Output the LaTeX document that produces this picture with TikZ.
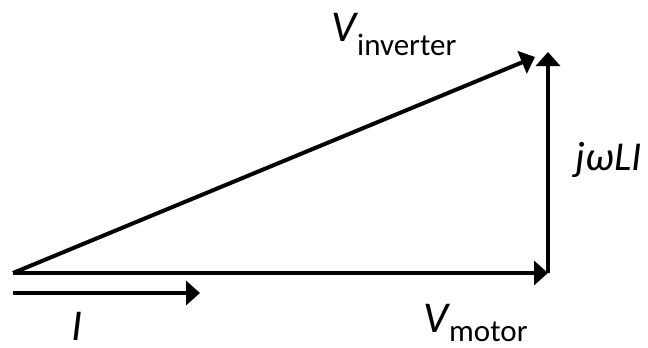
\documentclass[tikz,border=0pt]{standalone}
\usepackage{fontspec}
\setmainfont{Carlito}
\usetikzlibrary{arrows.meta}
\begin{document}
\begin{tikzpicture}[x=1pt,y=-1pt,
  vec/.style={line width=4pt,-{Triangle[length=14pt,width=24pt]}},
  lbl/.style={inner sep=0pt,anchor=base west,font=\fontsize{44}{44}\selectfont\itshape},
  sub/.style={inner sep=0pt,anchor=base west,font=\fontsize{31}{31}\selectfont}]
\useasboundingbox (0,0) rectangle (648,348);
\coordinate (O) at (13,273);
\coordinate (M) at (548,273);
\coordinate (T) at (548,52);
\coordinate (Ttip) at (535,57);
\coordinate (Iend) at (200,293);
\coordinate (Istart) at (13,293);
\draw[vec] (O) -- (M);
\draw[vec] (M) -- (T);
\draw[vec] (O) -- (Ttip);
\draw[vec] (Istart) -- (Iend);
\node[lbl] (vi) at (331,41) {V};
\node[sub] (vis) at (357,55) {inverter};
\node[lbl,anchor=base east,font=\fontsize{41}{41}\selectfont\itshape] (jw) at (642,170) {jωLI};
\node[lbl] (vm) at (423,332) {V};
\node[sub] (vms) at (449,341) {motor};
\node[lbl] (ii) at (71,340) {I};
\end{tikzpicture}
\end{document}
